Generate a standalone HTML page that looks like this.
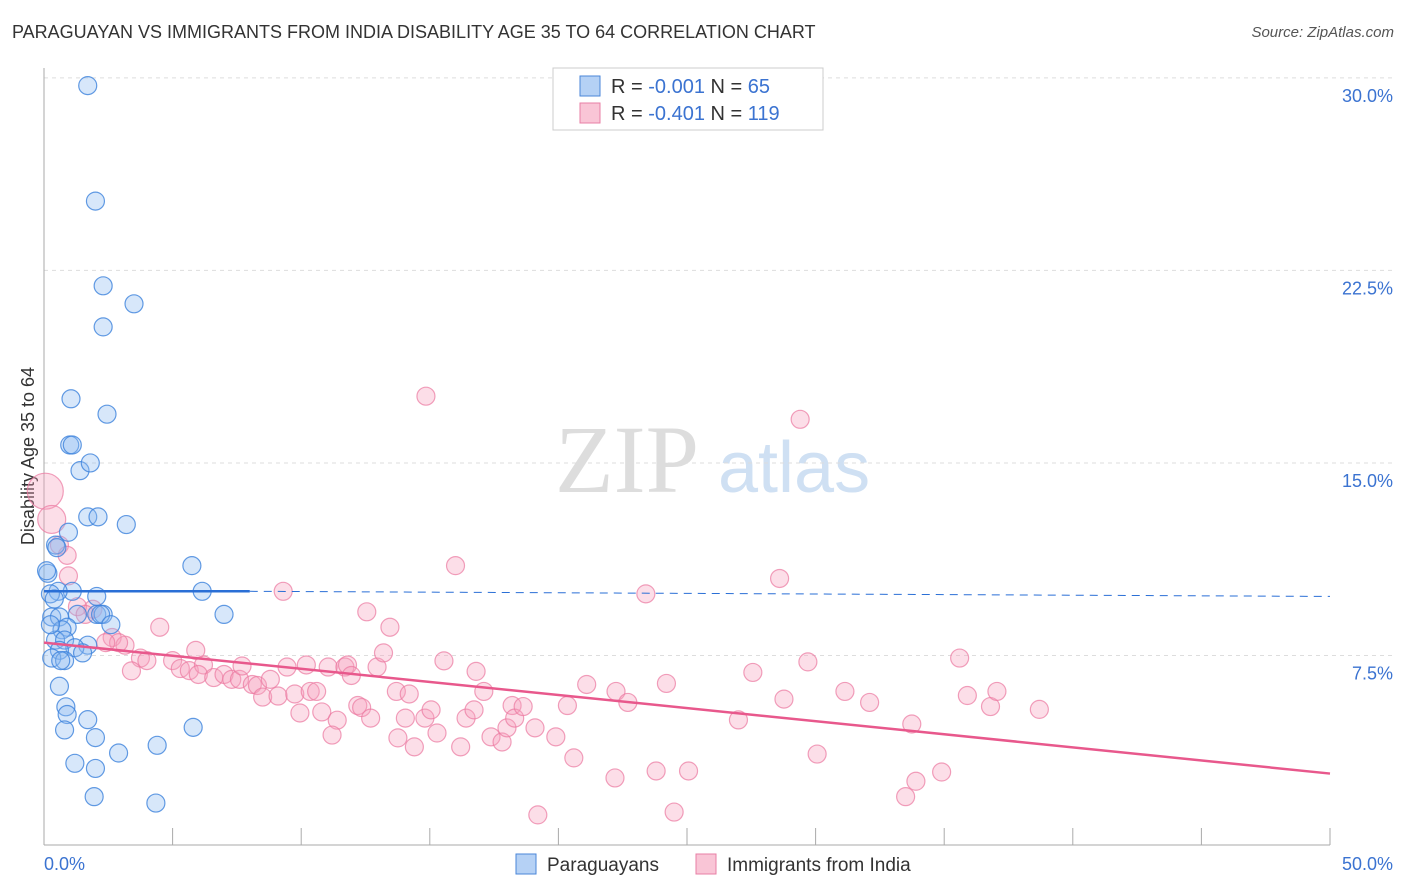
<!DOCTYPE html>
<html><head><meta charset="utf-8"><style>
body{margin:0;background:#fff;font-family:"Liberation Sans",sans-serif;}
#wrap{position:relative;width:1406px;height:892px;overflow:hidden;}
</style></head><body>
<div id="wrap">
<div style="position:absolute;left:12px;top:22px;font-size:18px;color:#333;">PARAGUAYAN VS IMMIGRANTS FROM INDIA DISABILITY AGE 35 TO 64 CORRELATION CHART</div>
<div style="position:absolute;right:12px;top:24px;font-size:15px;color:#555;font-style:italic;">Source: ZipAtlas.com</div>
<svg id="svg" width="1406" height="892" style="position:absolute;left:0;top:0"></svg>
</div>
<script>
const xTicks=[0,5,10,15,20,25,30,35,40,45,50];
const yTicks=[7.5,15,22.5,30];
const yTickLabels=["7.5%","15.0%","22.5%","30.0%"];
const blueX=[1.7,2.0,2.3,3.5,2.3,1.05,2.45,1.0,1.1,1.4,1.8,1.7,2.1,3.2,0.95,0.45,0.5,5.75,0.15,6.15,1.1,0.55,0.25,0.4,2.05,7.0,0.3,0.6,1.3,2.05,2.3,2.2,2.6,0.9,0.7,0.45,0.8,1.7,1.2,0.6,1.5,0.3,0.8,0.65,0.6,0.85,0.9,1.7,0.8,2.0,5.8,4.4,2.9,1.2,2.0,1.95,4.35,0.1,0.25];
const blueY=[29.7,25.2,21.9,21.2,20.3,17.5,16.9,15.7,15.7,14.7,15.0,12.9,12.9,12.6,12.3,11.8,11.7,11.0,10.7,10.0,10.0,10.0,9.9,9.7,9.8,9.1,9.0,9.0,9.1,9.1,9.1,9.1,8.7,8.6,8.5,8.1,8.1,7.9,7.8,7.7,7.6,7.4,7.3,7.3,6.3,5.5,5.2,5.0,4.6,4.3,4.7,4.0,3.7,3.3,3.1,2.0,1.75,10.8,8.7];
const pinkX=[0.05,0.3,0.6,0.9,0.95,9.3,16.0,14.85,29.4,28.6,23.4,12.55,13.45,4.5,1.9,1.3,1.6,2.65,3.15,2.9,2.4,3.75,4.0,3.4,5.0,5.3,5.65,5.9,6.2,6.0,6.6,7.0,7.3,7.6,7.7,8.1,8.3,8.5,8.8,9.1,9.45,9.75,9.95,10.35,10.6,10.8,10.2,11.05,11.4,11.2,11.7,11.8,11.95,12.2,12.35,12.7,12.95,13.2,13.7,14.05,14.2,13.76,14.4,14.81,15.05,15.28,15.55,16.2,16.41,16.72,16.8,17.1,17.38,17.81,18.0,18.2,18.3,18.63,19.09,19.2,19.9,20.35,20.6,21.1,22.24,22.2,22.7,23.8,24.2,24.5,25.06,27.0,27.56,28.77,29.7,30.06,31.14,32.1,33.5,33.74,33.9,34.9,35.6,35.9,36.8,37.05,38.7];
const pinkY=[13.9,12.8,11.8,11.4,10.6,10.0,11.0,17.6,16.7,10.5,9.9,9.2,8.6,8.6,9.3,9.4,9.1,8.2,7.9,8.0,8.0,7.4,7.3,6.9,7.3,6.99,6.91,7.7,7.13,6.76,6.64,6.76,6.57,6.57,7.09,6.37,6.33,5.88,6.57,5.92,7.05,6.0,5.26,6.1,6.1,5.3,7.13,7.05,4.98,4.4,7.05,7.13,6.72,5.55,5.47,5.06,7.05,7.6,6.1,5.06,6.0,4.29,3.94,5.06,5.38,4.48,7.29,3.94,5.06,5.38,6.88,6.1,4.33,4.13,4.68,5.55,5.06,5.51,4.68,1.29,4.33,5.55,3.51,6.37,6.1,2.73,5.67,3.0,6.41,1.4,3.0,4.99,6.84,5.8,7.25,3.66,6.1,5.67,2.0,4.83,2.6,2.96,7.4,5.94,5.51,6.1,5.4,3.62,3.62];
const blueTrend=[0,10.0,8,10.0,50,9.8];
const pinkTrend=[0,8.0,50,2.9];
const X=v=>44+v*25.72, Y=v=>848-v*25.67;
const svg=document.getElementById('svg');const NS='http://www.w3.org/2000/svg';
function el(t,a,p){const e=document.createElementNS(NS,t);for(const k in a)e.setAttribute(k,a[k]);(p||svg).appendChild(e);return e;}
let wm=el('text',{x:555,y:492,'font-size':96,fill:'#ddd','font-family':'Liberation Serif'});wm.textContent='ZIP';

let wm2=el('text',{x:718,y:492,'font-size':72,fill:'#cfe0f3','font-family':'Liberation Sans'});wm2.textContent='atlas';

yTicks.forEach((t,i)=>{let g=el('line',{x1:44,x2:1393,y1:Y(t),y2:Y(t),stroke:'#ddd','stroke-dasharray':'4,4'});

let l=el('text',{x:1393,y:Y(t)+24,'text-anchor':'end','font-size':18,fill:'#3b73d1'});l.textContent=yTickLabels[i];
});
let ax=el('line',{x1:44,x2:1330,y1:845,y2:845,stroke:'#aaa'});
let ay=el('line',{x1:44,x2:44,y1:68,y2:845,stroke:'#aaa'});
xTicks.forEach(t=>{let k=el('line',{x1:X(t),x2:X(t),y1:828,y2:845,stroke:'#aaa'});});
let xl0=el('text',{x:44,y:870,'font-size':18,fill:'#3b73d1'});xl0.textContent='0.0%';
let xl1=el('text',{x:1393,y:870,'font-size':18,fill:'#3b73d1','text-anchor':'end'});xl1.textContent='50.0%';
let yt=el('text',{x:34,y:456,'font-size':18,fill:'#333','text-anchor':'middle',transform:'rotate(-90 34 456)'});yt.textContent='Disability Age 35 to 64';

pinkX.forEach((x,i)=>{let c=el('circle',{cx:X(x),cy:Y(pinkY[i]),r:i<2?(i==0?18:14):9,fill:'rgba(247,160,190,0.35)',stroke:'rgba(235,120,160,0.7)','stroke-width':1.2});
});
blueX.forEach((x,i)=>{let c=el('circle',{cx:X(x),cy:Y(blueY[i]),r:9,fill:'rgba(140,185,240,0.35)',stroke:'rgba(60,130,220,0.8)','stroke-width':1.2});
});
let bt=el('line',{x1:X(blueTrend[0]),y1:Y(blueTrend[1]),x2:X(blueTrend[2]),y2:Y(blueTrend[3]),stroke:'#2a6fd6','stroke-width':2.5});

let bd=el('line',{x1:X(blueTrend[2]),y1:Y(blueTrend[3]),x2:X(blueTrend[4]),y2:Y(blueTrend[5]),stroke:'#2a6fd6','stroke-width':1,'stroke-dasharray':'8,6'});

let pt=el('line',{x1:X(pinkTrend[0]),y1:Y(pinkTrend[1]),x2:X(pinkTrend[2]),y2:Y(pinkTrend[3]),stroke:'#e8588c','stroke-width':2.5});

// top legend
let lb=el('rect',{x:553,y:68,width:270,height:62,fill:'#fff',stroke:'#ccc'});
[[ '#b5d1f5','#4a86d8','-0.001',' 65',86],['#f9c5d6','#e87fa5','-0.401','119',113]].forEach(r=>{
 let s=el('rect',{x:580,y:r[4]-10,width:20,height:20,fill:r[0],stroke:r[1]});
 let t=el('text',{x:611,y:r[4]+7,'font-size':20,fill:'#333'});
 t.innerHTML='R = <tspan fill="#3b73d1">'+r[2]+'</tspan>   N = <tspan fill="#3b73d1">'+r[3]+'</tspan>';t.setAttribute('xml:space','preserve');});
// bottom legend
[[516,'#b5d1f5','#4a86d8','Paraguayans','legend-paraguayans'],[696,'#f9c5d6','#e87fa5','Immigrants from India','legend-india']].forEach(r=>{
 let s=el('rect',{x:r[0],y:854,width:20,height:20,fill:r[1],stroke:r[2]});
 let t=el('text',{x:r[0]+31,y:871,'font-size':19,fill:'#333'});t.textContent=r[3];});
</script>
</body></html>
